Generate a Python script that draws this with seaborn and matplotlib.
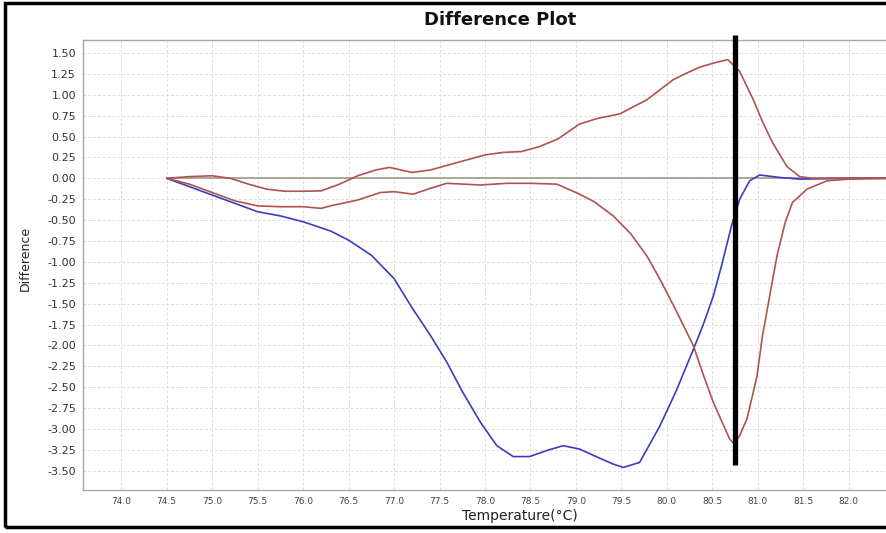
import matplotlib
matplotlib.use("Agg")
import matplotlib.pyplot as plt
from matplotlib.patches import Rectangle
import numpy as np
import pandas as pd
import seaborn as sns

# Melt-curve difference traces (temperature in °C, difference relative to reference)
temp_blue = [74.5, 74.75, 75.0, 75.25, 75.5, 75.75, 76.0, 76.3, 76.5, 76.75, 77.0,
             77.21, 77.4, 77.58, 77.75, 77.95, 78.13, 78.31, 78.49, 78.7, 78.86, 79.04,
             79.2, 79.41, 79.52, 79.7, 79.92, 80.1, 80.29, 80.4, 80.51, 80.6, 80.71,
             80.8, 80.91, 81.02, 81.24, 81.46, 82.0, 82.45]
diff_blue = [0.0, -0.10, -0.20, -0.30, -0.40, -0.45, -0.52, -0.63, -0.74, -0.92, -1.20,
             -1.57, -1.88, -2.20, -2.55, -2.92, -3.20, -3.33, -3.33, -3.25, -3.20, -3.24,
             -3.32, -3.42, -3.46, -3.40, -2.97, -2.55, -2.05, -1.75, -1.41, -1.05, -0.57,
             -0.25, -0.03, 0.04, 0.01, -0.01, 0.0, 0.0]

temp_red_low = [74.5, 74.75, 75.0, 75.25, 75.5, 75.75, 76.0, 76.2, 76.3, 76.6, 76.85,
                77.0, 77.21, 77.4, 77.58, 77.95, 78.24, 78.5, 78.79, 79.04, 79.2, 79.41,
                79.6, 79.78, 79.92, 80.1, 80.29, 80.4, 80.51, 80.6, 80.69, 80.74, 80.8,
                80.88, 80.99, 81.05, 81.13, 81.21, 81.3, 81.38, 81.54, 81.76, 82.0, 82.45]
diff_red_low = [0.0, -0.07, -0.17, -0.27, -0.33, -0.34, -0.34, -0.36, -0.33, -0.26, -0.17,
                -0.16, -0.19, -0.12, -0.06, -0.08, -0.06, -0.06, -0.07, -0.19, -0.28, -0.45,
                -0.66, -0.93, -1.20, -1.58, -2.00, -2.35, -2.68, -2.90, -3.12, -3.18, -3.08,
                -2.88, -2.37, -1.89, -1.41, -0.93, -0.53, -0.29, -0.13, -0.03, -0.01, 0.0]

temp_red_up = [74.5, 74.75, 75.0, 75.2, 75.4, 75.6, 75.8, 76.0, 76.2, 76.4, 76.6,
               76.8, 76.95, 77.2, 77.4, 77.6, 77.8, 78.0, 78.2, 78.4, 78.6, 78.8,
               79.04, 79.25, 79.48, 79.78, 80.07, 80.2, 80.36, 80.55, 80.67, 80.8, 80.95,
               81.05, 81.16, 81.32, 81.46, 81.6, 82.45]
diff_red_up = [0.0, 0.02, 0.03, 0.0, -0.07, -0.13, -0.155, -0.155, -0.15, -0.07, 0.03,
               0.10, 0.13, 0.07, 0.10, 0.16, 0.22, 0.28, 0.31, 0.32, 0.38, 0.47,
               0.65, 0.72, 0.77, 0.94, 1.18, 1.25, 1.33, 1.39, 1.42, 1.28, 0.94,
               0.68, 0.43, 0.14, 0.02, 0.0, 0.0]

marker_temp = 80.75
y_ticks = np.arange(-3.5, 1.51, 0.25)
x_ticks = np.arange(74.0, 82.01, 0.5)

df = pd.concat([
    pd.DataFrame({"Temperature": temp_blue, "Difference": diff_blue, "trace": "blue"}),
    pd.DataFrame({"Temperature": temp_red_low, "Difference": diff_red_low, "trace": "red_low"}),
    pd.DataFrame({"Temperature": temp_red_up, "Difference": diff_red_up, "trace": "red_up"}),
], ignore_index=True)

sns.set_style("white")
plt.rcParams["font.family"] = ["DejaVu Sans"]

fig = plt.figure(figsize=(8.87, 5.33), dpi=100)
ax = fig.add_axes([83 / 887, 43 / 533, (887 - 83) / 887, 450 / 533])

# Reference zero line
ax.plot([74.5, 82.6], [0, 0], color="#a2a290", lw=1.3, zorder=2, clip_on=True)

palette = {"blue": "#3c3cc0", "red_low": "#b05252", "red_up": "#b05252"}
sns.lineplot(data=df, x="Temperature", y="Difference", hue="trace", palette=palette,
             sort=False, estimator=None, lw=1.2, legend=False, ax=ax, zorder=3)

ax.set_xlim(73.58, 82.42)
ax.set_ylim(-3.73, 1.655)
ax.set_xticks(x_ticks)
ax.set_xticklabels([f"{v:.1f}" for v in x_ticks], fontsize=6.5, color="#444444")
ax.set_yticks(y_ticks)
ax.set_yticklabels([f"{v:.2f}" for v in y_ticks], fontsize=8, color="#333333")
ax.tick_params(axis="both", length=3, width=0.8, color="#999999", direction="out", pad=2)
ax.grid(True, color="#dddddd", linestyle=(0, (3, 2)), lw=0.7)

for side in ["left", "bottom", "top"]:
    ax.spines[side].set_color("#a8a8a8")
    ax.spines[side].set_linewidth(1.0)
ax.spines["right"].set_visible(False)

ax.set_xlabel("Temperature(°C)", fontsize=10, color="#222222", labelpad=4)
ax.set_ylabel("Difference", fontsize=9, color="#222222", labelpad=4)
ax.xaxis.set_label_coords((520 - 83) / 804, -0.043)
ax.yaxis.set_label_coords(-(83 - 32) / 804, 0.515)

# Marker line at the selected temperature
ax.plot([marker_temp, marker_temp], [1.715, -3.43], color="black", lw=3.8,
        solid_capstyle="butt", clip_on=False, zorder=5)

fig.text(500 / 887, 1 - 20 / 533, "Difference Plot", ha="center", va="center",
         fontsize=13, fontweight="bold", color="#111111")

# Outer frame
fig.patches.append(Rectangle((5 / 887, 6 / 533), 1.0, 1 - 9 / 533,
                             transform=fig.transFigure, fill=False,
                             edgecolor="black", lw=2.5, zorder=10))

fig.savefig("out.png", dpi=100)
